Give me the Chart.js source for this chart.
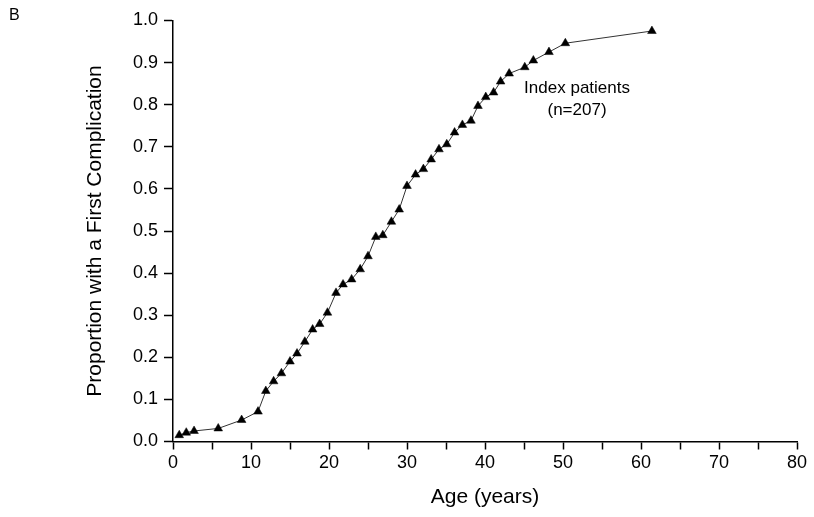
<!DOCTYPE html>
<html>
<head>
<meta charset="utf-8">
<script src="https://cdn.jsdelivr.net/npm/chart.js@4/dist/chart.umd.min.js"></script>
<style>
  html, body { margin: 0; padding: 0; background: #fff; }
  #wrap { position: relative; width: 814px; height: 517px; }
  #panel { position: absolute; left: 9px; top: 6px; font: 16px "Liberation Sans", Arial, sans-serif; color: #000; }
</style>
</head>
<body>
<div id="wrap">
  <canvas id="chart" width="814" height="517"></canvas>
  <div id="panel">B</div>
</div>
<script>
// ages (years) and cumulative proportion with a first complication
const ages = [0.8, 1.7, 2.7, 5.8, 8.8, 10.9, 11.9, 12.9, 13.9, 15.0, 15.9, 16.9, 17.9, 18.8, 19.8,
  20.9, 21.8, 22.9, 24.0, 25.0, 26.0, 26.9, 28.0, 29.0, 30.0, 31.1, 32.1, 33.1, 34.1, 35.1,
  36.1, 37.1, 38.2, 39.1, 40.1, 41.1, 42.0, 43.1, 45.1, 46.2, 48.2, 50.3, 61.4];
const proportion = [0.015, 0.021, 0.025, 0.031, 0.051, 0.071, 0.120, 0.143, 0.162, 0.190, 0.209, 0.237, 0.266, 0.279, 0.306,
  0.353, 0.373, 0.385, 0.409, 0.440, 0.486, 0.490, 0.522, 0.551, 0.607, 0.634, 0.647, 0.670, 0.694, 0.706,
  0.734, 0.752, 0.762, 0.797, 0.818, 0.829, 0.855, 0.874, 0.889, 0.905, 0.925, 0.946, 0.975];
const annotation = ['Index patients', '(n=207)'];
const annotationAt = { x: 51.8, y: 0.812 };

const font = '"Liberation Sans", Arial, sans-serif';

const labelPlugin = {
  id: 'labelText',
  afterDatasetsDraw(chart) {
    const ctx = chart.ctx;
    const x = chart.scales.x.getPixelForValue(annotationAt.x);
    const y = chart.scales.y.getPixelForValue(annotationAt.y);
    ctx.save();
    ctx.font = '17px ' + font;
    ctx.fillStyle = '#000';
    ctx.textAlign = 'center';
    ctx.textBaseline = 'middle';
    ctx.fillText(annotation[0], x, y - 11);
    ctx.fillText(annotation[1], x, y + 11);
    ctx.restore();
  }
};

new Chart(document.getElementById('chart'), {
  type: 'scatter',
  data: {
    datasets: [{
      data: ages.map((a, i) => ({ x: a, y: proportion[i] })),
      showLine: true,
      borderColor: '#333',
      borderWidth: 1,
      pointStyle: 'triangle',
      pointRadius: 5,
      pointBackgroundColor: '#000',
      pointBorderColor: '#000',
      pointBorderWidth: 0.5
    }]
  },
  options: {
    responsive: false,
    animation: false,
    layout: { padding: { left: 83, right: 17, top: 20.5, bottom: 0 } },
    plugins: { legend: { display: false }, tooltip: { enabled: false } },
    scales: {
      x: {
        type: 'linear',
        min: 0, max: 80,
        afterFit: s => { s.height = 75.5; },
        border: { color: '#000', width: 1.5 },
        grid: { drawOnChartArea: false, tickLength: 8, tickColor: '#000', tickWidth: 1.5 },
        ticks: {
          stepSize: 5, color: '#000', padding: 3, maxRotation: 0, autoSkip: false,
          font: { family: font, size: 18 },
          callback: v => (v % 10 === 0 ? String(v) : '')
        },
        title: {
          display: true, text: 'Age (years)', color: '#000',
          font: { family: font, size: 21 }, padding: { top: 4, bottom: 7 }
        }
      },
      y: {
        min: 0, max: 1,
        afterFit: s => { s.width = 90; },
        border: { color: '#000', width: 1.5 },
        grid: { drawOnChartArea: false, tickLength: 9, tickColor: '#000', tickWidth: 1.5 },
        ticks: {
          stepSize: 0.1, color: '#000', padding: 6,
          font: { family: font, size: 18 },
          callback: v => v.toFixed(1)
        },
        title: {
          display: true, text: 'Proportion with a First Complication', color: '#000',
          font: { family: font, size: 21 }, padding: { top: 0, bottom: 0 }
        }
      }
    }
  },
  plugins: [labelPlugin]
});
</script>
</body>
</html>
